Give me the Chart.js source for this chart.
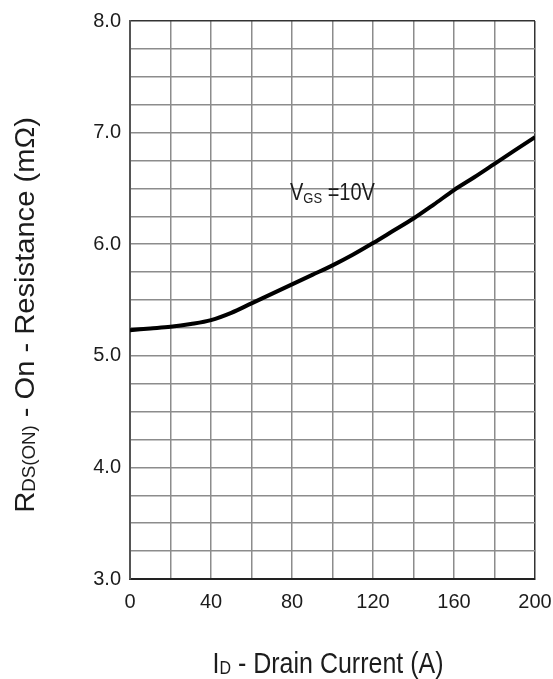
<!DOCTYPE html>
<html>
<head>
<meta charset="utf-8">
<script src="https://cdn.jsdelivr.net/npm/chart.js@4/dist/chart.umd.min.js"></script>
<style>
    html, body { margin: 0; padding: 0; background: #fff; }
    #wrap { width: 553px; height: 679px; position: relative; }
</style>
</head>
<body>
<div id="wrap"><canvas id="chart-canvas"></canvas></div>
<script>
// drain current (A) and on-resistance (mOhm) at VGS = 10V
const drainCurrent = [0, 10, 20, 30, 40, 50, 60, 70, 80, 90, 100, 110, 120, 130, 140, 150, 160, 170, 180, 190, 200];
const rdsOn = [5.23, 5.245, 5.26, 5.285, 5.32, 5.385, 5.47, 5.555, 5.64, 5.725, 5.81, 5.905, 6.01, 6.12, 6.23, 6.355, 6.485, 6.60, 6.72, 6.84, 6.96];

const xTickLabels = [0, 40, 80, 120, 160, 200];
const yTickLabels = [3, 4, 5, 6, 7, 8];

const vgsLabel = { x: 79, y: 6.40 };

const fontFamily = '"Liberation Sans", Arial, sans-serif';
const textColor = '#1c1c1c';

// draws text made of pieces with different sizes and baseline offsets
function drawRuns(ctx, runs, x, y) {
    let cx = x;
    runs.forEach(run => {
        ctx.font = run.size + 'px ' + fontFamily;
        ctx.fillText(run.text, cx, y + (run.dy || 0));
        cx += ctx.measureText(run.text).width;
    });
    return cx - x;
}

function runsWidth(ctx, runs) {
    let w = 0;
    runs.forEach(run => {
        ctx.font = run.size + 'px ' + fontFamily;
        w += ctx.measureText(run.text).width;
    });
    return w;
}

const yTitleRuns = [
    { text: 'R', size: 28 },
    { text: 'DS(ON)', size: 18, dy: 1 },
    { text: ' - On - Resistance (m\u03A9)', size: 28 }
];

const xTitleRuns = [
    { text: 'I', size: 25 },
    { text: 'D', size: 16, dy: 1 },
    { text: ' - Drain Current (A)', size: 25 }
];

const vgsRuns = [
    { text: 'V', size: 20 },
    { text: 'GS', size: 13, dy: 3 },
    { text: ' =10V', size: 20 }
];

const labelsPlugin = {
    id: 'labelsPlugin',
    afterDraw(chart) {
        const ctx = chart.ctx;
        const area = chart.chartArea;
        const xs = chart.scales.x;
        const ys = chart.scales.y;
        ctx.save();
        ctx.fillStyle = textColor;
        ctx.textBaseline = 'alphabetic';
        ctx.textAlign = 'left';

        // y axis title, rotated
        ctx.save();
        ctx.translate(34, (area.top + area.bottom) / 2 + 15);
        ctx.rotate(-Math.PI / 2);
        ctx.scale(1.04, 1);
        const yw = runsWidth(ctx, yTitleRuns);
        drawRuns(ctx, yTitleRuns, -yw / 2, 0);
        ctx.restore();

        // x axis title
        ctx.save();
        ctx.translate(328, 673);
        ctx.scale(1, 1.18);
        const xw = runsWidth(ctx, xTitleRuns);
        drawRuns(ctx, xTitleRuns, -xw / 2, 0);
        ctx.restore();

        // condition label inside the plot
        ctx.save();
        ctx.translate(xs.getPixelForValue(vgsLabel.x), ys.getPixelForValue(vgsLabel.y));
        ctx.scale(1, 1.15);
        drawRuns(ctx, vgsRuns, 0, 0);
        ctx.restore();

        ctx.restore();
    }
};

const ctx = document.getElementById('chart-canvas').getContext('2d');

new Chart(ctx, {
    type: 'line',
    data: {
        datasets: [{
            data: drainCurrent.map((x, i) => ({ x: x, y: rdsOn[i] })),
            borderColor: '#000',
            borderWidth: 4,
            pointRadius: 0,
            cubicInterpolationMode: 'monotone',
            fill: false
        }]
    },
    options: {
        responsive: true,
        maintainAspectRatio: false,
        animation: false,
        layout: {
            padding: { top: 21, right: 18, left: 0, bottom: 0 }
        },
        plugins: {
            legend: { display: false },
            tooltip: { enabled: false }
        },
        scales: {
            x: {
                type: 'linear',
                min: 0,
                max: 200,
                afterFit: scale => {
                    scale.height = 100;
                    scale.paddingLeft = 0;
                    scale.paddingRight = 0;
                },
                ticks: {
                    stepSize: 20,
                    padding: 11,
                    autoSkip: false,
                    maxRotation: 0,
                    color: textColor,
                    font: { family: fontFamily, size: 20 },
                    callback: v => xTickLabels.includes(v) ? String(v) : ''
                },
                grid: {
                    drawTicks: false,
                    lineWidth: 1.5,
                    color: c => c.tick && c.tick.value === 200 ? '#333' : '#8c8c8c'
                },
                border: { color: '#222', width: 2 }
            },
            y: {
                min: 3,
                max: 8,
                afterFit: scale => {
                    scale.width = 130;
                    scale.paddingTop = 0;
                    scale.paddingBottom = 0;
                },
                ticks: {
                    stepSize: 0.25,
                    padding: 9,
                    autoSkip: false,
                    color: textColor,
                    font: { family: fontFamily, size: 20 },
                    callback: v => yTickLabels.includes(v) ? v.toFixed(1) : ''
                },
                grid: {
                    drawTicks: false,
                    lineWidth: 1.5,
                    color: c => c.tick && c.tick.value === 8 ? '#333' : '#8c8c8c'
                },
                border: { color: '#555', width: 2 }
            }
        }
    },
    plugins: [labelsPlugin]
});
</script>
</body>
</html>
